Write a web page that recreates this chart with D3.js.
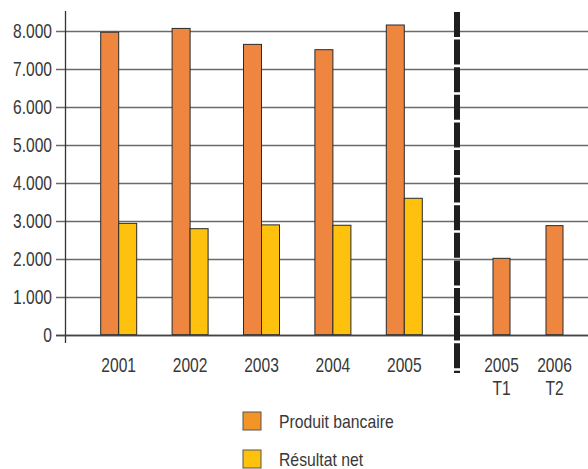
<!DOCTYPE html>
<html>
<head>
<meta charset="utf-8">
<script src="https://cdn.jsdelivr.net/npm/d3@7"></script>
<style>
  html, body { margin: 0; padding: 0; background: #fff; }
  svg { display: block; }
  text { font-family: "Liberation Sans", Arial, sans-serif; fill: #383838; }
</style>
</head>
<body>
<svg id="chart" width="588" height="469"></svg>
<script>
// Annual figures
const years = ["2001", "2002", "2003", "2004", "2005"];
const produitBancaire = [7960, 8060, 7640, 7500, 8150];
const resultatNet = [2930, 2790, 2890, 2880, 3590];

// Half-year figures (produit bancaire only)
const periods = ["2005 T1", "2006 T2"];
const periodLines = [["2005", "T1"], ["2006", "T2"]];
const produitPeriods = [2010, 2870];

const yTicks = [0, 1000, 2000, 3000, 4000, 5000, 6000, 7000, 8000];
const legendLabels = ["Produit bancaire", "Résultat net"];

const colors = {
  produit: "#ee8640",
  resultat: "#fec20e",
  legendProduit: "#f39428",
  legendResultat: "#fec20e",
  outline: "#2a2a2a",
  grid: "#6b6b6b"
};

const svg = d3.select("#chart");
const W = 588;
const axisX = 65;

// place a horizontally condensed text at (x, y)
function label(sel, x, y, anchor, txt, size, squeeze) {
  return sel.append("text")
    .attr("transform", `translate(${x},${y}) scale(${squeeze},1)`)
    .attr("text-anchor", anchor)
    .attr("font-size", size)
    .text(txt);
}

const y = d3.scaleLinear().domain([0, 8000]).range([334.7, 30.7]);
const xYears = d3.scaleBand().domain(years).range([83, 440]);
const xPeriods = d3.scaleBand().domain(periods).range([475, 581]);

const fmt = d => d === 0 ? "0" : d3.format(",")(d).replace(/,/g, ".");

// Grid lines with left tick extension
svg.append("g")
  .selectAll("line")
  .data(yTicks)
  .join("line")
  .attr("x1", axisX - 9)
  .attr("x2", W)
  .attr("y1", d => Math.round(y(d)) + 0.5)
  .attr("y2", d => Math.round(y(d)) + 0.5)
  .attr("stroke", d => d === 0 ? "#444" : colors.grid)
  .attr("stroke-width", 1.3);

// Y axis labels
const yl = svg.append("g");
yTicks.forEach(d => label(yl, 52, y(d) + 7.3, "end", fmt(d), 20, 0.78));

// Vertical axis line
svg.append("line")
  .attr("x1", axisX + 0.5).attr("x2", axisX + 0.5)
  .attr("y1", y(8520)).attr("y2", 343)
  .attr("stroke", "#333").attr("stroke-width", 1.3);

const barW = 18;

// Annual bars: produit bancaire
svg.append("g")
  .selectAll("rect")
  .data(years)
  .join("rect")
  .attr("x", d => xYears(d) + xYears.bandwidth() / 2 - barW)
  .attr("y", (d, i) => y(produitBancaire[i]))
  .attr("width", barW)
  .attr("height", (d, i) => y(0) - y(produitBancaire[i]))
  .attr("fill", colors.produit)
  .attr("stroke", colors.outline)
  .attr("stroke-width", 1);

// Annual bars: résultat net
svg.append("g")
  .selectAll("rect")
  .data(years)
  .join("rect")
  .attr("x", d => xYears(d) + xYears.bandwidth() / 2)
  .attr("y", (d, i) => y(resultatNet[i]))
  .attr("width", barW)
  .attr("height", (d, i) => y(0) - y(resultatNet[i]))
  .attr("fill", colors.resultat)
  .attr("stroke", colors.outline)
  .attr("stroke-width", 1);

// Half-year bars
const pW = 17;
svg.append("g")
  .selectAll("rect")
  .data(periods)
  .join("rect")
  .attr("x", d => xPeriods(d) + xPeriods.bandwidth() / 2 - pW / 2)
  .attr("y", (d, i) => y(produitPeriods[i]))
  .attr("width", pW)
  .attr("height", (d, i) => y(0) - y(produitPeriods[i]))
  .attr("fill", colors.produit)
  .attr("stroke", colors.outline)
  .attr("stroke-width", 1);

// Baseline drawn over bar bottoms
svg.append("line")
  .attr("x1", axisX - 9).attr("x2", W)
  .attr("y1", Math.round(y(0)) + 0.5).attr("y2", Math.round(y(0)) + 0.5)
  .attr("stroke", "#444").attr("stroke-width", 1.3);

// Separator between annual and half-year figures
svg.append("line")
  .attr("x1", 457).attr("x2", 457)
  .attr("y1", 12).attr("y2", 373)
  .attr("stroke", "#1e1e1e")
  .attr("stroke-width", 6)
  .attr("stroke-dasharray", "25,2.6");

// X labels: years
const xl = svg.append("g");
years.forEach(d => label(xl, xYears(d) + xYears.bandwidth() / 2, 372, "middle", d, 20, 0.78));

// X labels: periods on two lines
periods.forEach((d, i) => {
  const cx = xPeriods(d) + xPeriods.bandwidth() / 2;
  periodLines[i].forEach((s, k) => label(xl, cx, 372 + k * 23, "middle", s, 20, 0.78));
});

// Legend
const legendFill = [colors.legendProduit, colors.legendResultat];
const lg = svg.append("g").attr("transform", "translate(243,412)");
legendLabels.forEach((d, i) => {
  const g = lg.append("g").attr("transform", `translate(0,${i * 38})`);
  g.append("rect")
    .attr("width", 18).attr("height", 18)
    .attr("fill", legendFill[i])
    .attr("stroke", "#555").attr("stroke-width", 1);
  label(g, 36, 15.5, "start", d, 19, 0.83);
});
</script>
</body>
</html>
